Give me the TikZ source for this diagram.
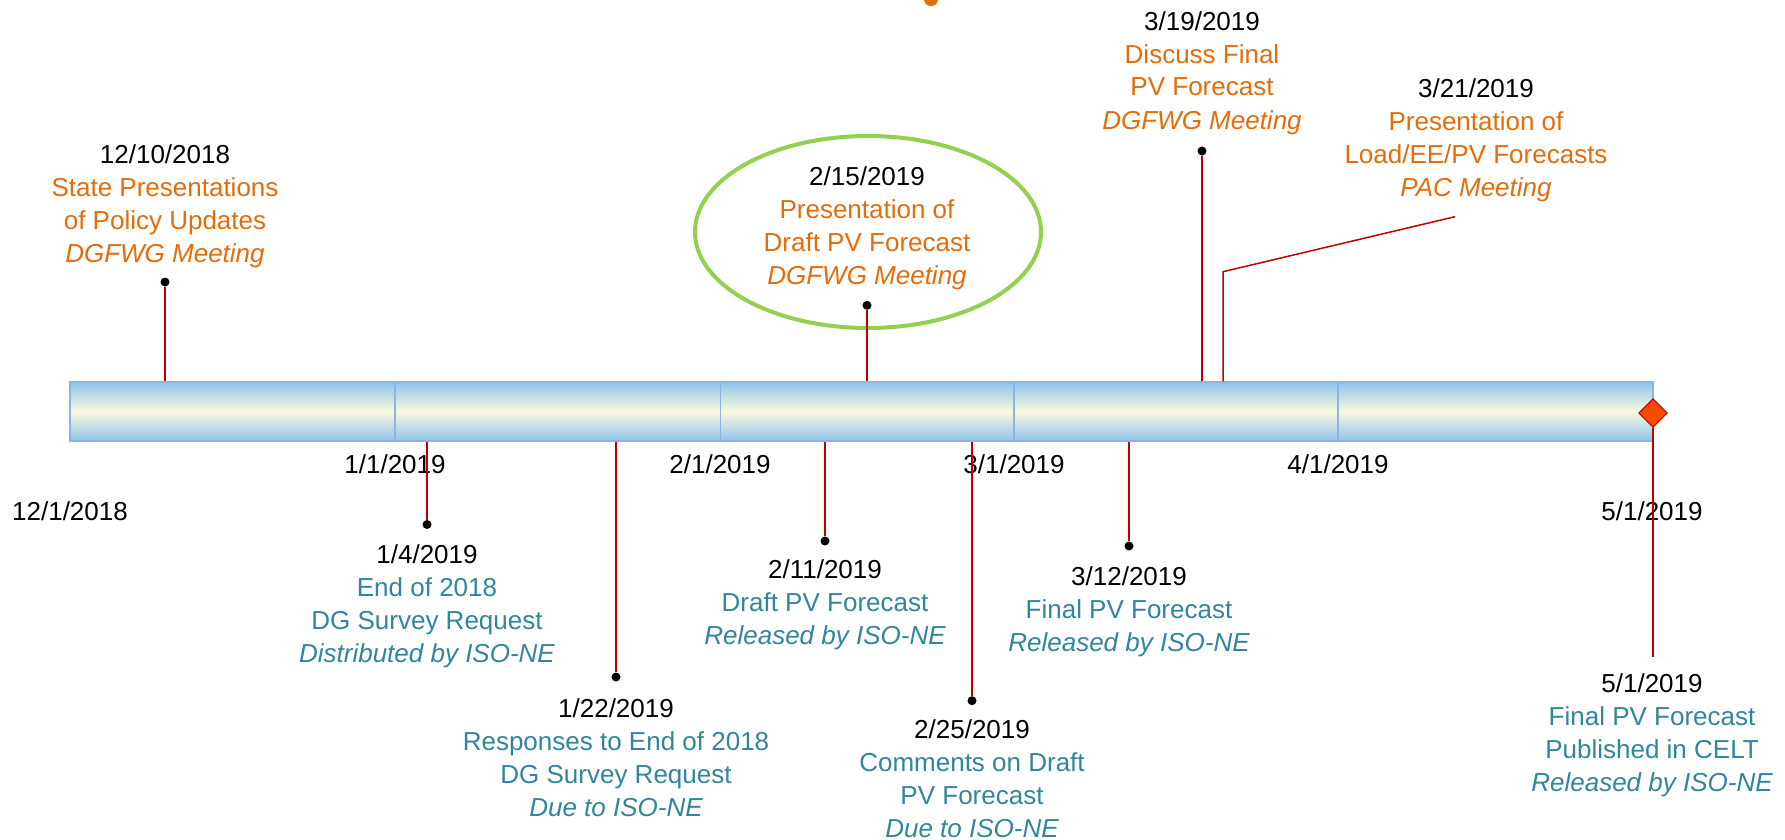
\documentclass[tikz,border=0pt]{standalone}
\usepackage{fontspec}
\setmainfont{Liberation Sans}
\usetikzlibrary{shapes.geometric}
\definecolor{dgorange}{HTML}{E46C0A}
\definecolor{dgteal}{HTML}{31859C}
\definecolor{dgred}{HTML}{C00000}
\definecolor{barblue}{HTML}{8EC4EC}
\definecolor{barcream}{HTML}{FBF9DF}
\definecolor{barline}{HTML}{8DB3E2}
\definecolor{ovalgreen}{HTML}{92D050}
\definecolor{diafill}{HTML}{F54B00}
\begin{document}
\begin{tikzpicture}[x=1pt,y=-1pt,
  evt/.style={align=center,anchor=base,inner sep=0pt,font=\fontsize{26}{33}\selectfont},
  lbl/.style={anchor=base,inner sep=0pt,font=\fontsize{26}{33}\selectfont},
  dot/.style={circle,fill=black,inner sep=0pt,minimum size=9pt},
  stem/.style={draw=dgred,line width=1.5pt},
  divider/.style={draw=barline,line width=1.5pt}]
\useasboundingbox (0,0) rectangle (1785,840);
% cut-off title glyph at the top
\fill[dgorange] (924,0) .. controls (925,8) and (937,8) .. (938,0) -- cycle;
% timeline bar
\node[draw=barline,line width=1.5pt,top color=barblue,bottom color=barblue,middle color=barcream,
      minimum width=1583pt,minimum height=59pt,inner sep=0pt] (bar) at (861.5,411.5) {};
\foreach \x in {395,720.5,1014,1338}
  \draw[divider] (\x,382) -- (\x,441);
% month labels
\node[lbl] (m0) at (70,520) {12/1/2018};
\node[lbl] (m1) at (395,473.5) {1/1/2019};
\node[lbl] (m2) at (720,473.5) {2/1/2019};
\node[lbl] (m3) at (1014,473.5) {3/1/2019};
\node[lbl] (m4) at (1338,473.5) {4/1/2019};
\node[lbl] (m5) at (1652,520) {5/1/2019};
% highlight oval
\draw[ovalgreen,line width=4pt] (868,232) ellipse [x radius=173, y radius=96];
% stems and dots
\node[dot] (d1) at (165,282) {};
\draw[stem] (d1) -- (d1 |- bar.north);
\node[dot] (d2) at (427,524.5) {};
\draw[stem] (d2) -- (d2 |- bar.south);
\node[dot] (d3) at (616,677) {};
\draw[stem] (d3) -- (d3 |- bar.south);
\node[dot] (d4) at (825,541) {};
\draw[stem] (d4) -- (d4 |- bar.south);
\node[dot] (d5) at (867,305.3) {};
\draw[stem] (d5) -- (d5 |- bar.north);
\node[dot] (d6) at (972,700.7) {};
\draw[stem] (d6) -- (d6 |- bar.south);
\node[dot] (d7) at (1129,546) {};
\draw[stem] (d7) -- (d7 |- bar.south);
\node[dot] (d8) at (1202,151) {};
\draw[stem] (d8) -- (d8 |- bar.north);
\coordinate (b9) at (1223,271.7);
\coordinate (k9) at (1455,216.7);
\draw[stem] (b9 |- bar.north) -- (b9) -- (k9);
\coordinate (k10) at (1653,656.7);
\node[diamond,draw=dgred,fill=diafill,line width=1pt,minimum size=28.6pt,inner sep=0pt] (dia) at (1653,413) {};
\draw[stem] (dia.south) -- (k10);
% event texts (anchor = baseline of the last line)
\node[evt] (t1) at (165,262.5) {12/10/2018\\\textcolor{dgorange}{State Presentations}\\\textcolor{dgorange}{of Policy Updates}\\\textcolor{dgorange}{\itshape DGFWG Meeting}};
\node[evt] (t2) at (427,662.5) {1/4/2019\\\textcolor{dgteal}{End of 2018}\\\textcolor{dgteal}{DG Survey Request}\\\textcolor{dgteal}{\itshape Distributed by ISO-NE}};
\node[evt] (t3) at (616,816) {1/22/2019\\\textcolor{dgteal}{Responses to End of 2018}\\\textcolor{dgteal}{DG Survey Request}\\\textcolor{dgteal}{\itshape Due to ISO-NE}};
\node[evt] (t4) at (825,644) {2/11/2019\\\textcolor{dgteal}{Draft PV Forecast}\\\textcolor{dgteal}{\itshape Released by ISO-NE}};
\node[evt] (t5) at (867,284) {2/15/2019\\\textcolor{dgorange}{Presentation of}\\\textcolor{dgorange}{Draft PV Forecast}\\\textcolor{dgorange}{\itshape DGFWG Meeting}};
\node[evt] (t6) at (972,837) {2/25/2019\\\textcolor{dgteal}{Comments on Draft}\\\textcolor{dgteal}{PV Forecast}\\\textcolor{dgteal}{\itshape Due to ISO-NE}};
\node[evt] (t7) at (1129,651) {3/12/2019\\\textcolor{dgteal}{Final PV Forecast}\\\textcolor{dgteal}{\itshape Released by ISO-NE}};
\node[evt] (t8) at (1202,129) {3/19/2019\\\textcolor{dgorange}{Discuss Final}\\\textcolor{dgorange}{PV Forecast}\\\textcolor{dgorange}{\itshape DGFWG Meeting}};
\node[evt] (t9) at (1476,196) {3/21/2019\\\textcolor{dgorange}{Presentation of}\\\textcolor{dgorange}{Load/EE/PV Forecasts}\\\textcolor{dgorange}{\itshape PAC Meeting}};
\node[evt] (t10) at (1652,791) {5/1/2019\\\textcolor{dgteal}{Final PV Forecast}\\\textcolor{dgteal}{Published in CELT}\\\textcolor{dgteal}{\itshape Released by ISO-NE}};
\end{tikzpicture}
\end{document}
